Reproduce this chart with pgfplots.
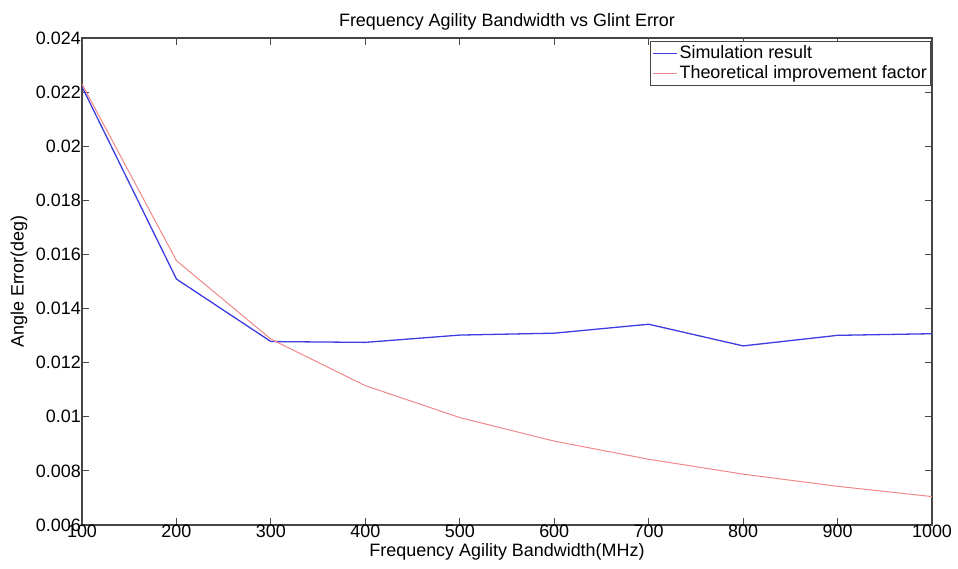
\documentclass[border=0pt]{standalone}
\usepackage{pgfplots}
\pgfplotsset{compat=1.18}
\usepackage{fontspec}
\setmainfont{Liberation Sans}
\definecolor{simblue}{RGB}{60,60,225}
\definecolor{theored}{RGB}{242,135,135}
\definecolor{axgray}{RGB}{70,70,70}
\begin{document}
\begin{tikzpicture}
\fontsize{18}{21}\selectfont
\begin{axis}[
  at={(0,0)}, anchor=south west,
  scale only axis,
  width=850bp, height=487bp,
  xmin=100, xmax=1000, ymin=0.006, ymax=0.024,
  xtick={100,200,...,1000},
  ytick={0.006,0.008,...,0.0241},
  scaled y ticks=false,
  /pgf/number format/assume math mode=true,
  /pgf/number format/1000 sep={},
  yticklabel style={/pgf/number format/fixed, /pgf/number format/precision=3},
  tick label style={font=\fontsize{18}{21}\selectfont},
  yticklabel style={inner sep=1pt, xshift=0pt},
  xticklabel style={inner sep=1pt, yshift=1pt},
  tick align=inside,
  major tick length=7bp,
  axis line style={axgray, line width=1.3pt},
  every tick/.style={axgray, line width=1pt},
  title={Frequency Agility Bandwidth vs Glint Error},
  title style={font=\fontsize{18}{21}\selectfont, yshift=-4bp},
  xlabel={Frequency Agility Bandwidth(MHz)},
  ylabel={Angle Error(deg)},
  label style={font=\fontsize{18}{21}\selectfont},
  xlabel style={at={(axis description cs:0.5,0)}, anchor=center, yshift=-27bp},
  ylabel style={at={(axis description cs:-0.074,0.5)}, anchor=center},
  legend style={at={(0.999,0.993)}, anchor=north east, draw=axgray, line width=0.8pt,
    font=\fontsize{18}{21}\selectfont, inner sep=2pt, row sep=0pt,
    legend cell align=left},
  legend image code/.code={\draw[#1, line width=1pt] (0bp,0bp) -- (24bp,0bp);},
]
\addplot[simblue, line width=1.3pt] coordinates {
(100,0.0222) (200,0.01509) (300,0.01278) (400,0.01275) (500,0.01302)
(600,0.01309) (700,0.01342) (800,0.01262) (900,0.01301) (1000,0.01307)};
\addlegendentry{Simulation result}
\addplot[theored, line width=1pt] coordinates {
(100,0.02230) (200,0.01577) (300,0.01287) (400,0.01115) (500,0.00997)
(600,0.00910) (700,0.00843) (800,0.00788) (900,0.00743) (1000,0.00705)};
\addlegendentry{Theoretical improvement factor}
\end{axis}
\pgfresetboundingbox
\path[use as bounding box] (-82bp,-44bp) rectangle (876bp,525bp);
\end{tikzpicture}
\end{document}
